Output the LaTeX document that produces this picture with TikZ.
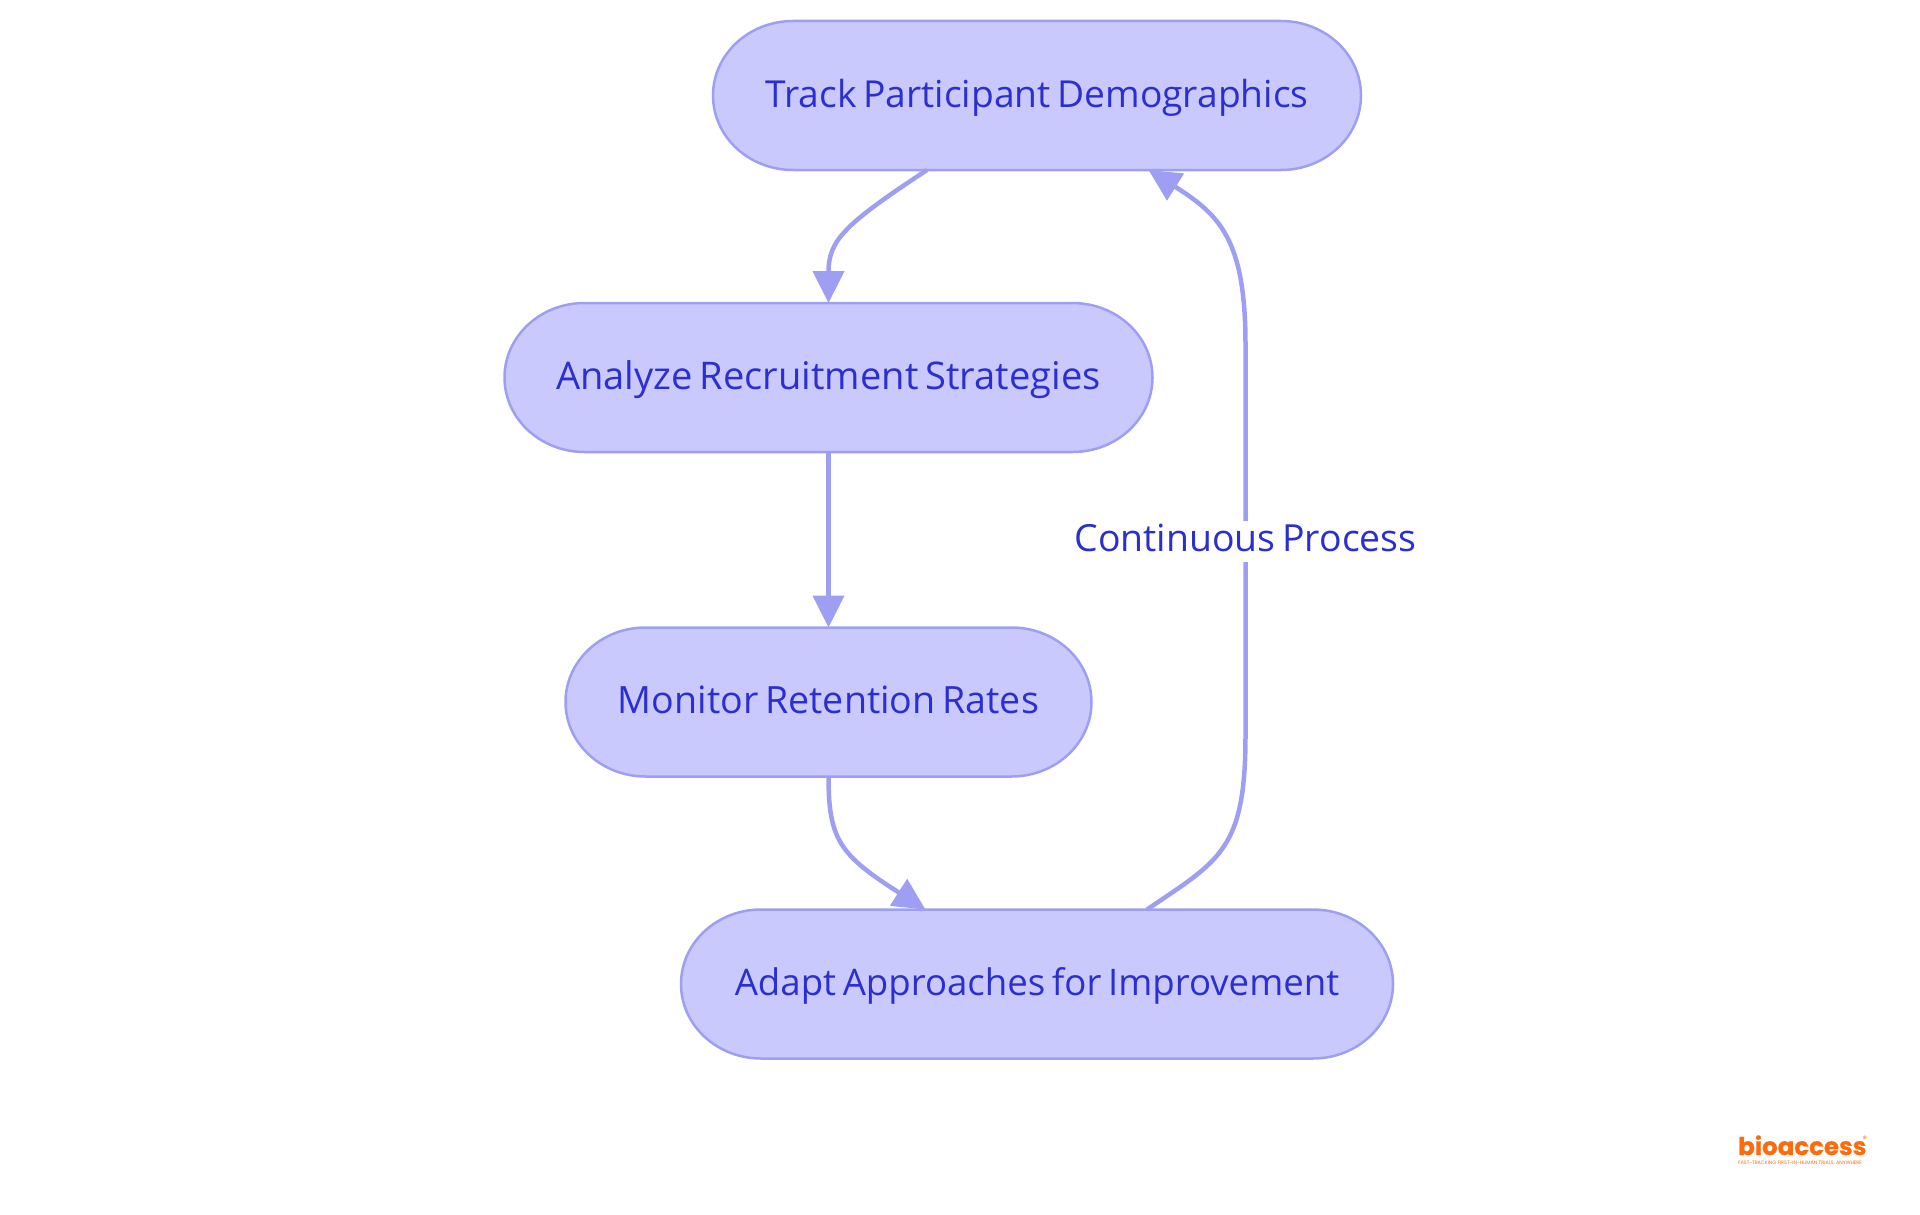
\documentclass[tikz,border=0pt]{standalone}
\usepackage{fontspec}
\setmainfont{Open Sans}[WordSpace=0.7]
\newfontfamily\logofont{Poppins}[BoldFeatures={FakeBold=0.6}]
\usetikzlibrary{arrows.meta,backgrounds}
\definecolor{nodefill}{HTML}{C9C9FE}
\definecolor{nodeline}{HTML}{9E9FF3}
\definecolor{labeltext}{HTML}{2C2FCF}
\definecolor{logoorange}{HTML}{FF6A0D}
\tikzset{
  box/.style={minimum height=149pt,outer sep=0pt,
    text=labeltext,text height=28pt,text depth=5pt,inner sep=0pt},
  pill/.style={draw=nodeline,fill=nodefill,line width=2.5pt},
  link/.style={draw=nodeline,line width=4.5pt,-{Triangle[length=32pt,width=31pt]}},
  linklabel/.style={fill=white,text=labeltext,inner xsep=0pt,inner ysep=3.5pt}
}
\newcommand{\pillfor}[1]{%
  \draw[pill] ([xshift=80pt]#1.north west) -- ([xshift=-80pt]#1.north east)
    arc[start angle=90,end angle=0,x radius=80pt,y radius=74.5pt]
    arc[start angle=0,end angle=-90,x radius=80pt,y radius=74.5pt]
    -- ([xshift=80pt]#1.south west)
    arc[start angle=-90,end angle=-180,x radius=80pt,y radius=74.5pt]
    arc[start angle=180,end angle=90,x radius=80pt,y radius=74.5pt] -- cycle;}
\begin{document}
\begin{tikzpicture}[x=1pt,y=-1pt]
\useasboundingbox (0,0) rectangle (1920,1215);
\node[box,minimum width=648pt,font=\fontsize{37.2}{40}\selectfont] (n1) at (1037,95.5) {Track Participant Demographics};
\node[box,minimum width=648pt,font=\fontsize{38.1}{40}\selectfont] (n2) at (828.5,377.5) {Analyze Recruitment Strategies};
\node[box,minimum width=526pt,font=\fontsize{37.6}{40}\selectfont] (n3) at (828.5,702) {Monitor Retention Rates};
\node[box,minimum width=712pt,font=\fontsize{36.6}{40}\selectfont] (n4) at (1037,984) {Adapt Approaches for Improvement};
\begin{scope}[on background layer]
\pillfor{n1}
\pillfor{n2}
\pillfor{n3}
\pillfor{n4}
\end{scope}
\draw[link] ([xshift=-110pt]n1.south) .. controls (845,224) and (828.5,240) .. (n2.north);
\draw[link] (n2.south) -- (n3.north);
\draw[link] (n3.south) .. controls (828.5,840) and (840,855) .. ([xshift=-111.5pt]n4.north);
\coordinate (up1) at (1245.5,735);
\coordinate (up2) at (1245.5,345);
\draw[link] ([xshift=110pt]n4.north) .. controls (1220,860) and (1245.5,850) .. (up1) -- (up2) .. controls (1245.5,240) and (1220,215) .. ([xshift=111.5pt]n1.south);
\node[linklabel,font=\fontsize{37.4}{40}\selectfont,text height=27pt,text depth=7pt] (lab) at (1245.5,541.5) {Continuous Process};
\node[inner sep=0pt,anchor=base west,text=logoorange,font=\logofont\bfseries\fontsize{24.5}{25}\selectfont] (logo) at (1738,1155) {bioaccess};
\node[inner sep=0pt,text=logoorange,font=\logofont\fontsize{9}{9}\selectfont] (reg) at (1865,1139) {®};
\node[inner sep=0pt,anchor=base,text=logoorange,font=\logofont\fontsize{4.9}{5}\selectfont] (tag) at (1800,1164) {FAST-TRACKING FIRST-IN-HUMAN TRIALS, ANYWHERE};
\end{tikzpicture}
\end{document}
